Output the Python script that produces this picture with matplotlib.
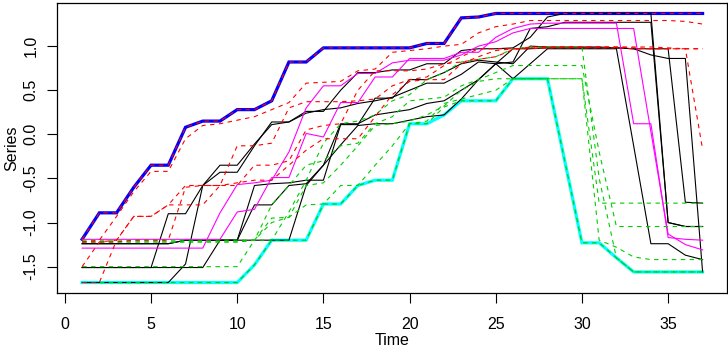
import numpy as np
import matplotlib.pyplot as plt

plt.rcParams['font.family'] = ['Liberation Sans', 'DejaVu Sans']

time = np.arange(1, 38)

# red dashed series (upper group)
red_1 = [-1.19, -0.89, -0.89, -0.60, -0.35, -0.35, 0.08, 0.15, 0.15, 0.28, 0.28, 0.38, 0.82, 0.82, 0.98, 0.98, 0.98, 0.98, 0.98,
         0.98, 1.03, 1.03, 1.32, 1.33, 1.37, 1.37, 1.37, 1.37, 1.37, 1.37, 1.37, 1.37, 1.37, 1.37, 1.37, 1.37, 1.37]
red_2 = [-1.22, -1.20, -0.93, -0.65, -0.42, -0.42, -0.05, 0.10, 0.12, 0.16, 0.20, 0.28, 0.36, 0.58, 0.59, 0.60, 0.72, 0.74, 0.93,
         0.95, 0.97, 1.00, 1.02, 1.15, 1.22, 1.25, 1.29, 1.29, 1.29, 1.29, 1.29, 1.29, 1.29, 1.29, 1.29, 1.28, 1.25]
red_3 = [-1.50, -1.22, -1.20, -0.93, -0.93, -0.80, -0.80, -0.80, -0.58, -0.13, -0.13, -0.10, 0.30, 0.37, 0.37, 0.37, 0.38, 0.40,
         0.55, 0.62, 0.65, 0.78, 0.88, 0.97, 0.97, 0.97, 0.97, 0.98, 0.99, 0.99, 0.99, 0.99, 0.98, 0.97, 0.97, 0.97, 0.97]
red_4 = [-1.68, -1.68, -1.20, -0.93, -0.93, -0.80, -0.58, -0.58, -0.58, -0.55, -0.52, -0.52, -0.35, -0.18, -0.05, -0.05, -0.05,
         0.20, 0.45, 0.60, 0.62, 0.62, 0.80, 0.88, 0.95, 0.97, 0.98, 0.98, 0.98, 0.98, 0.98, 0.98, 0.97, 0.97, 0.97, 0.97, -0.17]
red_5 = [-1.22, -1.22, -1.22, -1.20, -1.20, -1.20, -0.60, -0.58, -0.58, -0.58, -0.35, -0.35, -0.30, 0.05, 0.10, 0.12, 0.50, 0.72,
         0.72, 0.72, 0.74, 0.80, 0.82, 0.85, 0.88, 0.96, 0.99, 0.99, 0.99, 0.99, 0.99, 0.99, 0.99, 0.99, 0.98, 0.97, 0.97]

# green dashed series (lower group)
green_1 = [-1.68, -1.68, -1.68, -1.68, -1.68, -1.68, -1.68, -1.68, -1.68, -1.68, -1.48, -1.20, -1.20, -1.20, -0.79, -0.79, -0.58,
           -0.52, -0.52, 0.12, 0.12, 0.31, 0.38, 0.38, 0.38, 0.63, 0.63, 0.63, -0.30, -1.23, -1.23, -1.40, -1.56, -1.56, -1.56,
           -1.56, -1.56]
green_2 = [-1.50, -1.50, -1.50, -1.50, -1.50, -1.50, -1.50, -1.50, -1.50, -1.50, -1.20, -0.95, -0.94, -0.80, -0.79, -0.58, -0.58,
           -0.35, -0.13, 0.12, 0.15, 0.35, 0.40, 0.45, 0.50, 0.63, 0.63, 0.63, 0.63, 0.63, -1.20, -1.28, -1.39, -1.42, -1.42,
           -1.42, -1.42]
green_3 = [-1.22, -1.22, -1.22, -1.22, -1.22, -1.22, -1.22, -1.22, -1.22, -1.22, -1.20, -1.00, -0.94, -0.58, -0.55, -0.35, -0.13,
           0.10, 0.12, 0.15, 0.22, 0.32, 0.50, 0.60, 0.63, 0.63, 0.63, 0.63, 0.63, 0.63, -0.78, -0.78, -0.78, -0.78, -0.78, -0.78,
           -0.78]
green_4 = [-1.22, -1.22, -1.22, -1.22, -1.22, -1.22, -1.22, -1.22, -1.22, -1.22, -1.20, -0.80, -0.58, -0.35, -0.30, -0.13, -0.10,
           0.12, 0.20, 0.38, 0.40, 0.42, 0.55, 0.62, 0.70, 0.78, 0.78, 0.78, 0.78, 0.78, -0.20, -1.045, -1.045, -1.045, -1.045,
           -1.045, -1.045]
green_5 = [-1.20, -1.20, -1.20, -1.20, -1.20, -1.20, -1.20, -1.20, -1.20, -1.20, -1.20, -1.20, -0.88, -0.52, -0.10, 0.12, 0.15,
           0.22, 0.38, 0.45, 0.62, 0.70, 0.82, 0.85, 0.88, 0.97, 0.99, 0.99, 0.99, 0.99, -0.50, -1.40, -1.56, -1.56, -1.56, -1.56,
           -1.56]

# black solid series
black_1 = [-1.24, -1.24, -1.24, -1.24, -1.24, -1.24, -1.20, -1.20, -1.20, -1.20, -0.58, -0.56, -0.55, -0.52, -0.52, 0.11, 0.11,
           0.41, 0.41, 0.62, 0.62, 0.70, 0.80, 0.84, 0.82, 0.80, 1.00, 0.99, 0.99, 0.99, 0.99, 0.98, 0.97, 0.97, 0.97, -0.77, -0.78]
black_2 = [-1.51, -1.51, -1.51, -1.51, -1.51, -0.90, -0.90, -0.58, -0.35, -0.35, -0.11, 0.11, 0.14, 0.26, 0.26, 0.50, 0.70, 0.70,
           0.73, 0.73, 0.80, 0.80, 0.95, 0.97, 0.97, 0.98, 1.10, 1.33, 1.37, 1.37, 1.37, 1.37, 1.37, 1.37, -1.00, -1.045, -1.045]
black_3 = [-1.68, -1.68, -1.68, -1.68, -1.68, -1.68, -1.47, -0.58, -0.43, -0.43, -0.13, 0.14, 0.14, 0.24, 0.28, 0.30, 0.35, 0.38,
           0.42, 0.50, 0.58, 0.58, 0.68, 0.82, 0.80, 0.63, 0.80, 0.97, 0.97, 0.97, 0.97, 0.97, -0.13, -1.24, -1.24, -1.37, -1.42]
black_4 = [-1.24, -1.24, -1.24, -1.24, -1.24, -1.24, -1.20, -1.20, -1.20, -1.20, -0.80, -0.80, -0.58, -0.56, -0.35, -0.12, 0.10,
           0.12, 0.12, 0.16, 0.20, 0.22, 0.40, 0.62, 0.80, 0.97, 0.97, 0.98, 0.98, 0.98, 0.98, 0.98, 0.97, 0.90, 0.86, 0.86, -1.56]
black_5 = [-1.51, -1.51, -1.51, -1.51, -1.51, -1.51, -1.51, -1.51, -1.20, -1.20, -1.20, -1.20, -1.20, -0.58, -0.35, 0.12, 0.12,
           0.22, 0.25, 0.28, 0.35, 0.38, 0.50, 0.62, 0.80, 0.82, 1.20, 1.22, 1.27, 1.27, 1.27, 1.27, 1.27, 1.27, -1.00, -1.045,
           -1.045]

# magenta solid series
magenta_1 = [-1.19, -1.19, -1.19, -1.19, -1.19, -1.19, -1.19, -1.19, -1.19, -0.88, -0.85, -0.49, -0.49, 0.01, -0.03, 0.36, 0.36,
             0.65, 0.65, 0.86, 0.86, 0.86, 0.93, 0.93, 1.10, 1.20, 1.25, 1.26, 1.26, 1.26, 1.26, 1.26, 0.12, 0.12, -1.17, -1.19,
             -1.20]
magenta_2 = [-1.29, -1.29, -1.29, -1.29, -1.29, -1.29, -1.29, -1.29, -0.89, -0.57, -0.55, -0.52, -0.20, 0.30, 0.55, 0.55, 0.69,
             0.69, 0.81, 0.84, 0.84, 0.84, 0.90, 1.00, 1.05, 1.15, 1.20, 1.20, 1.20, 1.20, 1.20, 1.20, 1.20, 0.03, -1.13, -1.25,
             -1.31]

red_series = [red_1, red_2, red_3, red_4, red_5]
green_series = [green_1, green_2, green_3, green_4, green_5]
black_series = [black_1, black_2, black_3, black_4, black_5]
magenta_series = [magenta_1, magenta_2]

all_series = np.array(red_series + green_series + black_series + magenta_series)
upper = all_series.max(axis=0)
lower = all_series.min(axis=0)

fig = plt.figure(figsize=(7.28, 3.52), dpi=100)
ax = fig.add_axes([0.0787, 0.1668, 0.9205, 0.8255])

# envelopes first, thick
ax.plot(time, upper, color='blue', lw=2.3, solid_joinstyle='miter')
ax.plot(time, lower, color='cyan', lw=2.3, solid_joinstyle='miter')

for s in black_series:
    ax.plot(time, s, color='black', lw=0.8)
for s in magenta_series:
    ax.plot(time, s, color='magenta', lw=0.8)
for s in green_series:
    ax.plot(time, s, color='#00cd00', lw=0.8, linestyle=(0, (4, 4)))
for s in red_series:
    ax.plot(time, s, color='red', lw=0.8, linestyle=(0, (4, 4)))

ax.set_xlim(-0.44, 38.44)
ax.set_ylim(-1.802, 1.492)
ax.set_xticks(np.arange(0, 36, 5))
ax.set_yticks([-1.5, -1.0, -0.5, 0.0, 0.5, 1.0])
ax.set_yticklabels(['-1.5', '-1.0', '-0.5', '0.0', '0.5', '1.0'], rotation=90, va='center')
ax.tick_params(direction='out', length=7, width=0.8, labelsize=11.5, pad=10)
ax.tick_params(axis='y', pad=6.5)
for sp in ax.spines.values():
    sp.set_linewidth(0.9)
ax.set_xlabel('Time', fontsize=11.5, labelpad=1)
ax.set_ylabel('Series', fontsize=11.5, labelpad=3)

fig.savefig('out.png', dpi=100)
